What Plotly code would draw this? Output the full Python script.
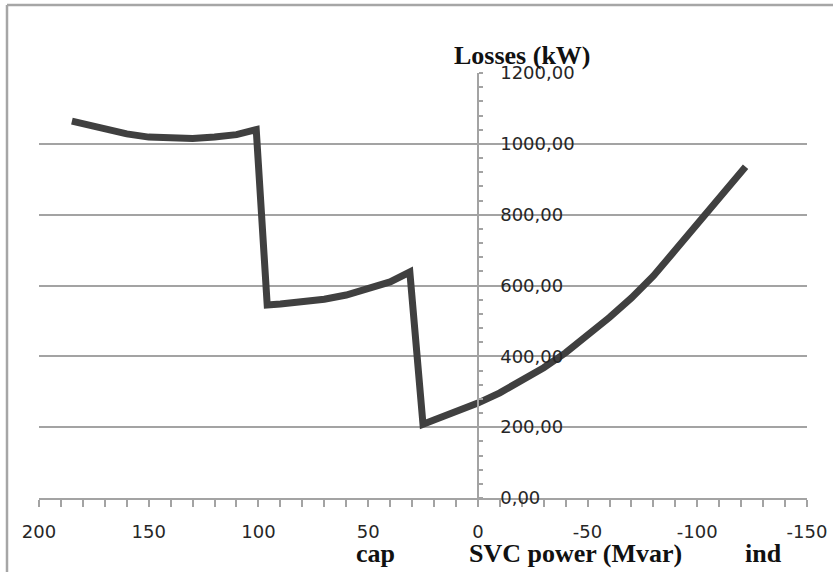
import plotly.graph_objects as go

# SVC reactive power (Mvar): positive = capacitive, negative = inductive
svc_mvar = [185, 170, 160, 150, 140, 130, 120, 110, 101,
            96, 90, 80, 70, 60, 50, 40, 31,
            25, 20, 10, 0, -10, -20, -30, -40, -50, -60, -70, -80,
            -90, -100, -110, -122]
# Active power losses (kW)
losses_kw = [1064, 1040, 1028, 1019, 1015, 1015, 1019, 1026, 1040,
             545, 548, 553, 561, 573, 590, 610, 638,
             208, 220, 243, 268, 297, 330, 368, 410, 458, 510, 565, 627,
             700, 775, 852, 935]

x_ticks = [200, 150, 100, 50, 0, -50, -100, -150]
x_tick_text = ["200", "150", "100", "50", "0", "-50", "-100", "-150"]
y_ticks = [0, 200, 400, 600, 800, 1000, 1200]

GRID = "#A3A3A3"
TXT = "#262626"
W, H = 833, 572
L, R, T, B = 39, 26, 73, 74
pw, ph = W - L - R, H - T - B


def px(x):
    return (x - L) / pw


def py(y):
    return (H - B - y) / ph


fig = go.Figure()
fig.add_trace(go.Scatter(
    x=svc_mvar, y=losses_kw, mode="lines",
    line=dict(color="#404040", width=7),
    hoverinfo="skip", showlegend=False,
))

fig.update_layout(
    width=W, height=H,
    margin=dict(l=L, r=R, t=T, b=B, pad=0),
    paper_bgcolor="white", plot_bgcolor="white",
    separators=",.",
    font=dict(family="DejaVu Sans", size=18, color=TXT),
    xaxis=dict(
        range=[200, -150], tickvals=x_ticks, ticktext=x_tick_text,
        automargin=False, ticklabeloverflow="allow",
        showgrid=False, zeroline=False,
        showline=True, linecolor=GRID, linewidth=1.5,
        ticks="outside", ticklen=7, tickcolor=GRID, tickwidth=1.5,
        minor=dict(dtick=10, ticks="outside", ticklen=7, tickcolor=GRID, tickwidth=1.5),
        ticklabelstandoff=10,
        tickfont=dict(family="DejaVu Sans", size=18, color=TXT),
    ),
    yaxis=dict(
        range=[0, 1200], tickvals=y_ticks, tickformat=".2f",
        automargin=False, ticklabeloverflow="allow",
        anchor="free", position=200 / 350, side="right",
        showgrid=True, gridcolor=GRID, gridwidth=1.5, zeroline=False,
        showline=True, linecolor=GRID, linewidth=1.5,
        ticks="outside", ticklen=4, tickcolor=GRID, tickwidth=1.5,
        minor=dict(dtick=40, ticks="outside", ticklen=4, tickcolor=GRID, tickwidth=1.5),
        ticklabelstandoff=14,
        tickfont=dict(family="DejaVu Sans", size=18, color=TXT),
    ),
)

# chart frame (top and left edges)
fig.add_shape(type="line", xref="paper", yref="paper",
              x0=px(7), x1=px(W), y0=py(5), y1=py(5),
              line=dict(color="#A6A6A6", width=2.5))
fig.add_shape(type="line", xref="paper", yref="paper",
              x0=px(7), x1=px(7), y0=py(5), y1=py(H),
              line=dict(color="#A6A6A6", width=2.5))

title_font = dict(family="Liberation Serif", size=26, color="#111111")
fig.add_annotation(text="<b>Losses (kW)</b>", xref="paper", yref="paper",
                   x=px(522), y=py(56), showarrow=False, font=title_font,
                   xanchor="center", yanchor="middle")
fig.add_annotation(text="<b>cap</b>", xref="paper", yref="paper",
                   x=px(375), y=py(553), showarrow=False, font=title_font,
                   xanchor="center", yanchor="middle")
fig.add_annotation(text="<b>SVC power (Mvar)</b>", xref="paper", yref="paper",
                   x=px(575), y=py(553), showarrow=False, font=title_font,
                   xanchor="center", yanchor="middle")
fig.add_annotation(text="<b>ind</b>", xref="paper", yref="paper",
                   x=px(763), y=py(553), showarrow=False, font=title_font,
                   xanchor="center", yanchor="middle")

fig.write_html("out.html")
